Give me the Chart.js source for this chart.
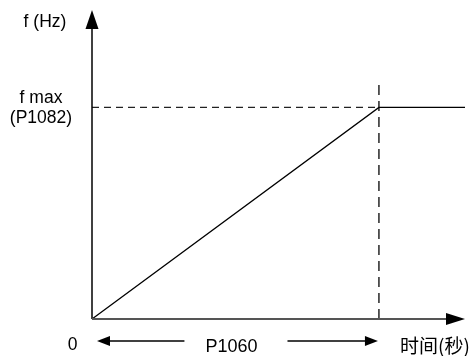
<!DOCTYPE html>
<html>
<head>
<meta charset="utf-8">
<script src="https://cdn.jsdelivr.net/npm/chart.js@4/dist/chart.umd.min.js"></script>
<style>
html,body{margin:0;padding:0;background:#fff;}
#wrap{width:475px;height:356px;position:relative;}
</style>
</head>
<body>
<div id="wrap"><canvas id="c" width="475" height="356"></canvas></div>
<script>
// Data (normalised: ramp time P1060 = 10 s, fmax = 1)
const rampTimes = [0, 10, 13];
const rampFreqs = [0, 1, 1];
const fmaxLineTimes = [0, 10];
const fmaxLineFreqs = [1, 1];
const rampEndTimes = [10, 10];
const rampEndFreqs = [0, 1.13];
const xAxisMax = 13;
const yAxisMax = 1.46;
const labels = {
  yTitle: 'f (Hz)',
  fmax: ['f max', '(P1082)'],
  origin: '0',
  ramp: 'P1060',
  xTitle: '时间(秒)'
};

const pts = (xs, ys) => xs.map((x, i) => ({x: x, y: ys[i]}));

const annot = {
  id: 'annot',
  afterDraw(chart) {
    const ctx = chart.ctx;
    const xs = chart.scales.x, ys = chart.scales.y;
    const x0 = xs.getPixelForValue(0), y0 = ys.getPixelForValue(0);
    const xEnd = xs.getPixelForValue(xAxisMax), yTop = ys.getPixelForValue(yAxisMax);
    ctx.save();
    // y axis
    ctx.strokeStyle = '#000'; ctx.lineWidth = 1.5;
    ctx.beginPath(); ctx.moveTo(x0, y0); ctx.lineTo(x0, yTop + 16); ctx.stroke();
    ctx.fillStyle = '#000';
    ctx.beginPath(); ctx.moveTo(x0, yTop); ctx.lineTo(x0 - 6.5, yTop + 19); ctx.lineTo(x0 + 6.5, yTop + 19); ctx.closePath(); ctx.fill();
    // x axis
    ctx.strokeStyle = '#555'; ctx.lineWidth = 2;
    ctx.beginPath(); ctx.moveTo(x0, y0); ctx.lineTo(xEnd - 16, y0); ctx.stroke();
    ctx.beginPath(); ctx.moveTo(xEnd, y0); ctx.lineTo(xEnd - 19, y0 - 6); ctx.lineTo(xEnd - 19, y0 + 6); ctx.closePath(); ctx.fill();

    // texts
    ctx.fillStyle = '#000';
    ctx.font = '17.5px "Liberation Sans", Arial, sans-serif';
    ctx.textAlign = 'center'; ctx.textBaseline = 'alphabetic';
    ctx.fillText(labels.yTitle, 45, 27);
    const fy = ys.getPixelForValue(1);
    ctx.fillText(labels.fmax[0], 41, fy - 4);
    ctx.fillText(labels.fmax[1], 41, fy + 16);
    ctx.fillText(labels.origin, 72.5, y0 + 31);

    // P1060 double arrow
    const xr = xs.getPixelForValue(10);
    const ay = y0 + 22;
    ctx.font = '18px "Liberation Sans", Arial, sans-serif';
    const tw = ctx.measureText(labels.ramp).width;
    const cx = (x0 + xr) / 2 - 4;
    ctx.fillText(labels.ramp, cx, y0 + 33);
    ctx.strokeStyle = '#000'; ctx.lineWidth = 1.3;
    const lEnd = cx - tw / 2 - 21, rStart = cx + tw / 2 + 30;
    const lTip = x0 + 5;
    ctx.beginPath(); ctx.moveTo(lTip + 10, ay); ctx.lineTo(lEnd, ay); ctx.stroke();
    ctx.beginPath(); ctx.moveTo(lTip, ay); ctx.lineTo(lTip + 13, ay - 5); ctx.lineTo(lTip + 13, ay + 5); ctx.closePath(); ctx.fill();
    ctx.beginPath(); ctx.moveTo(rStart, ay); ctx.lineTo(xr - 10, ay); ctx.stroke();
    ctx.beginPath(); ctx.moveTo(xr - 1, ay); ctx.lineTo(xr - 14, ay - 5); ctx.lineTo(xr - 14, ay + 5); ctx.closePath(); ctx.fill();

    // x title
    ctx.font = '19px "Noto Sans CJK SC", sans-serif';
    ctx.textAlign = 'left'; ctx.textBaseline = 'middle';
    ctx.fillText(labels.xTitle, 400, y0 + 27);
    ctx.restore();
  }
};

new Chart(document.getElementById('c'), {
  type: 'scatter',
  data: {
    datasets: [
      { data: pts(rampTimes, rampFreqs), showLine: true, borderColor: '#000', borderWidth: 1.3, pointRadius: 0, tension: 0 },
      { data: pts(fmaxLineTimes, fmaxLineFreqs), showLine: true, borderColor: '#222', borderWidth: 1.3, borderDash: [7, 5], pointRadius: 0 },
      { data: pts(rampEndTimes, rampEndFreqs), showLine: true, borderColor: '#333', borderWidth: 1.6, borderDash: [10, 6], pointRadius: 0 }
    ]
  },
  options: {
    responsive: false,
    animation: false,
    layout: { padding: { left: 92, right: 10, top: 10, bottom: 37 } },
    plugins: { legend: { display: false }, tooltip: { enabled: false } },
    scales: {
      x: { type: 'linear', min: 0, max: xAxisMax, display: false },
      y: { type: 'linear', min: 0, max: yAxisMax, display: false }
    }
  },
  plugins: [annot]
});
</script>
</body>
</html>
